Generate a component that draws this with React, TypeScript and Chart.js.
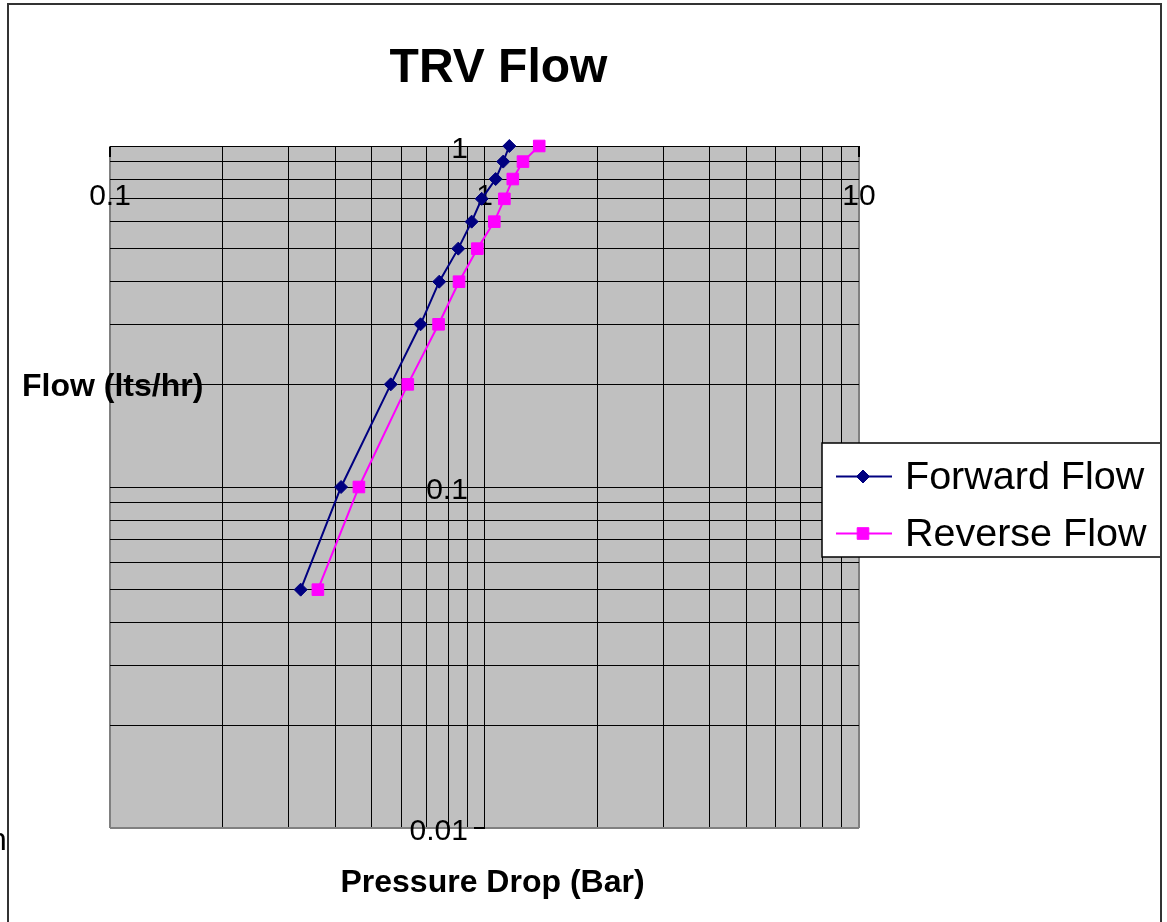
import React, { useEffect, useRef } from 'react';
import { Chart, registerables } from 'chart.js';

Chart.register(...registerables);

// ---- data ----
const FLOW = [0.05, 0.1, 0.2, 0.3, 0.4, 0.5, 0.6, 0.7, 0.8, 0.9, 1.0];
const FORWARD_DROP = [0.323, 0.414, 0.562, 0.675, 0.757, 0.851, 0.924, 0.983, 1.071, 1.122, 1.165];
const REVERSE_DROP = [0.359, 0.462, 0.624, 0.754, 0.855, 0.957, 1.062, 1.13, 1.19, 1.267, 1.4];
const SERIES_LABELS = ['Forward Flow', 'Reverse Flow'];

const X_TICKS = [0.1, 0.2, 0.3, 0.4, 0.5, 0.6, 0.7, 0.8, 0.9, 1, 2, 3, 4, 5, 6, 7, 8, 9, 10];
const X_TICK_LABELS = ['0.1', '1', '10'];
const Y_TICKS = [0.01, 0.02, 0.03, 0.04, 0.05, 0.06, 0.07, 0.08, 0.09, 0.1, 0.2, 0.3, 0.4, 0.5, 0.6, 0.7, 0.8, 0.9, 1];
const Y_TICK_LABELS = ['0.01', '0.1', '1'];

const TITLE = 'TRV Flow';
const X_TITLE = 'Pressure Drop (Bar)';
const Y_TITLE = 'Flow (lts/hr)';
const STRAY_TEXT = 'n';

const FONT = '"Liberation Sans", Arial, sans-serif';
const NAVY = '#000080';
const MAGENTA = '#FF00FF';

function drawMarker(ctx: CanvasRenderingContext2D, style: string, x: number, y: number, r: number, color: string) {
  ctx.save();
  ctx.fillStyle = color;
  ctx.strokeStyle = color;
  ctx.lineWidth = 1;
  ctx.beginPath();
  if (style === 'rectRot') {
    ctx.moveTo(x - r, y);
    ctx.lineTo(x, y - r);
    ctx.lineTo(x + r, y);
    ctx.lineTo(x, y + r);
    ctx.closePath();
  } else {
    const s = Math.SQRT1_2 * r;
    ctx.rect(x - s, y - s, 2 * s, 2 * s);
  }
  ctx.fill();
  ctx.stroke();
  ctx.restore();
}

const decorPlugin = {
  id: 'decor',
  beforeDraw(chart: any) {
    const { ctx, chartArea: a, width, height } = chart;
    ctx.save();
    ctx.fillStyle = '#ffffff';
    ctx.fillRect(0, 0, width, height);
    ctx.fillStyle = '#C0C0C0';
    ctx.fillRect(a.left, a.top, a.right - a.left, a.bottom - a.top);
    ctx.restore();
  },
  afterDraw(chart: any) {
    const { ctx, chartArea: a } = chart;
    ctx.save();
    ctx.fillStyle = '#000';
    ctx.textBaseline = 'alphabetic';

    // title
    ctx.font = `bold 48px ${FONT}`;
    ctx.textAlign = 'center';
    ctx.fillText(TITLE, (a.left + a.right) / 2 + 14, 82);

    // axis titles
    ctx.font = `bold 32px ${FONT}`;
    ctx.textAlign = 'center';
    ctx.fillText(X_TITLE, (a.left + a.right) / 2 + 8, 892);
    ctx.textAlign = 'left';
    ctx.fillText(Y_TITLE, 22, 396);

    // stray clipped text at left edge
    ctx.font = `32px ${FONT}`;
    ctx.fillText(STRAY_TEXT, -11, 850);

    // legend
    const lx = 822, ly = 443, lw = 339, lh = 114;
    ctx.fillStyle = '#ffffff';
    ctx.fillRect(lx, ly, lw, lh);
    ctx.strokeStyle = '#000';
    ctx.lineWidth = 1.5;
    ctx.strokeRect(lx, ly, lw, lh);
    const rows = [476.5, 533.5];
    chart.data.datasets.forEach((ds: any, i: number) => {
      const y = rows[i];
      ctx.strokeStyle = ds.borderColor;
      ctx.lineWidth = ds.borderWidth;
      ctx.beginPath();
      ctx.moveTo(836, y);
      ctx.lineTo(892, y);
      ctx.stroke();
      drawMarker(ctx, ds.pointStyle, 863, y, ds.pointRadius, ds.borderColor);
      ctx.fillStyle = '#000';
      ctx.font = `39.5px ${FONT}`;
      ctx.textAlign = 'left';
      ctx.fillText(ds.label, 905, y + 12);
    });
    ctx.restore();
  },
};

const isEdgeX = (c: any) => c && c.tick && (c.tick.value === 0.1 || c.tick.value === 10);
const isEdgeY = (c: any) => c && c.tick && c.tick.value === 0.01;

export default function App() {
  const canvasRef = useRef<HTMLCanvasElement | null>(null);

  useEffect(() => {
    if (!canvasRef.current) return;
    const chart = new Chart(canvasRef.current, {
      type: 'scatter',
      data: {
        datasets: [
          {
            label: SERIES_LABELS[0],
            data: FORWARD_DROP.map((x, i) => ({ x, y: FLOW[i] })),
            showLine: true,
            borderColor: NAVY,
            backgroundColor: NAVY,
            borderWidth: 2,
            pointStyle: 'rectRot',
            pointRadius: 6.5,
            pointBorderWidth: 1,
            clip: false,
          },
          {
            label: SERIES_LABELS[1],
            data: REVERSE_DROP.map((x, i) => ({ x, y: FLOW[i] })),
            showLine: true,
            borderColor: MAGENTA,
            backgroundColor: MAGENTA,
            borderWidth: 2,
            pointStyle: 'rect',
            pointRadius: 8.2,
            pointBorderWidth: 1,
            clip: false,
          },
        ],
      } as any,
      options: {
        responsive: false,
        devicePixelRatio: 1,
        animation: false,
        layout: { padding: { left: 110, top: 146, right: 308, bottom: 94 } },
        plugins: {
          legend: { display: false },
          title: { display: false },
          tooltip: { enabled: false },
        },
        scales: {
          x: {
            type: 'logarithmic',
            min: 0.1,
            max: 10,
            position: { y: 1 } as any,
            afterBuildTicks: (s: any) => {
              s.ticks = X_TICKS.map((v) => ({ value: v }));
            },
            ticks: {
              autoSkip: false,
              maxRotation: 0,
              minRotation: 0,
              padding: 23,
              color: '#000',
              font: { family: FONT, size: 30 },
              callback: (v: any) => (X_TICK_LABELS.includes(String(v)) ? String(v) : ''),
            },
            grid: {
              color: (c: any) => (isEdgeX(c) ? '#808080' : '#000'),
              lineWidth: (c: any) => (isEdgeX(c) ? 2 : 1),
              tickLength: 10,
              tickColor: '#000',
            },
            border: { display: true, color: '#000', width: 1 },
          },
          y: {
            type: 'logarithmic',
            min: 0.01,
            max: 1,
            position: { x: 1 } as any,
            afterBuildTicks: (s: any) => {
              s.ticks = Y_TICKS.map((v) => ({ value: v }));
            },
            ticks: {
              autoSkip: false,
              labelOffset: 4,
              color: '#000',
              font: { family: FONT, size: 30 },
              callback: (v: any) => (Y_TICK_LABELS.includes(String(v)) ? String(v) + '  ' : ''),
            },
            grid: {
              color: (c: any) => (isEdgeY(c) ? '#808080' : '#000'),
              lineWidth: (c: any) => (isEdgeY(c) ? 2 : 1),
              tickLength: 10,
              tickColor: '#000',
            },
            border: { display: true, color: '#000', width: 1 },
          },
        },
      } as any,
      plugins: [decorPlugin],
    });
    return () => chart.destroy();
  }, []);

  return (
    <div style={{ position: 'absolute', left: 0, top: 0, width: 1167, height: 922, overflow: 'hidden', background: '#fff' }}>
      <canvas ref={canvasRef} width={1167} height={922} style={{ display: 'block', width: 1167, height: 922 }} />
      <div
        style={{
          position: 'absolute',
          left: 7,
          top: 3,
          width: 1151,
          height: 1000,
          border: '2px solid #333',
          pointerEvents: 'none',
        }}
      />
    </div>
  );
}
